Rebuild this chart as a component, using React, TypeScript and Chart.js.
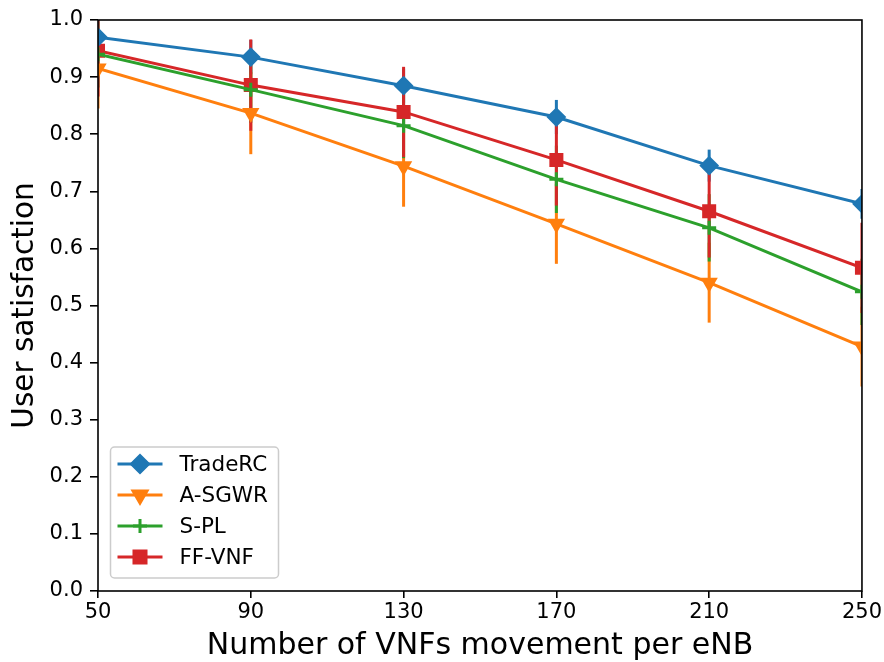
import React, { useEffect, useRef } from 'react';
import { Chart, registerables } from 'chart.js';
import { drawPoint } from 'chart.js/helpers';

Chart.register(...registerables);

const xValues = [50, 90, 130, 170, 210, 250];
const xTicks = [50, 90, 130, 170, 210, 250];
const seriesNames = ['TradeRC', 'A-SGWR', 'S-PL', 'FF-VNF'];
const seriesColors = ['#1f77b4', '#ff7f0e', '#2ca02c', '#d62728'];

const tradeRC = [0.970, 0.935, 0.885, 0.830, 0.745, 0.678];
const tradeRCErr = [0.03, 0.03, 0.03, 0.03, 0.028, 0.026];
const aSGWR = [0.915, 0.837, 0.744, 0.643, 0.540, 0.428];
const aSGWRErr = [0.07, 0.072, 0.071, 0.07, 0.07, 0.07];
const sPL = [0.940, 0.878, 0.815, 0.721, 0.636, 0.524];
const sPLErr = [0.058, 0.058, 0.057, 0.059, 0.059, 0.058];
const ffVNF = [0.946, 0.886, 0.839, 0.755, 0.665, 0.566];
const ffVNFErr = [0.08, 0.08, 0.079, 0.08, 0.081, 0.079];

const FONT = '"DejaVu Sans", sans-serif';

const pointStyles = [
  { pointStyle: 'rectRot', radius: 8.5, borderWidth: 2, rotation: 0 },
  { pointStyle: 'triangle', radius: 8, borderWidth: 2, rotation: 180 },
  { pointStyle: 'cross', radius: 7, borderWidth: 3, rotation: 0 },
  { pointStyle: 'rect', radius: 8.5, borderWidth: 2, rotation: 0 },
];

const errorBarPlugin = {
  id: 'errorBars',
  beforeDatasetsDraw(chart: any) {
    const { ctx, chartArea, scales } = chart;
    ctx.save();
    ctx.beginPath();
    ctx.rect(chartArea.left, chartArea.top, chartArea.right - chartArea.left, chartArea.bottom - chartArea.top);
    ctx.clip();
    chart.data.datasets.forEach((ds: any) => {
      ctx.strokeStyle = ds.borderColor;
      ctx.lineWidth = 3;
      ds.data.forEach((p: any, j: number) => {
        const e = ds.errors[j];
        const x = scales.x.getPixelForValue(p.x);
        const y1 = scales.y.getPixelForValue(p.y - e);
        const y2 = scales.y.getPixelForValue(p.y + e);
        ctx.beginPath();
        ctx.moveTo(x, y1);
        ctx.lineTo(x, y2);
        ctx.stroke();
      });
    });
    ctx.restore();
  },
};

const framePlugin = {
  id: 'frame',
  afterDatasetsDraw(chart: any) {
    const { ctx, chartArea } = chart;
    ctx.save();
    ctx.strokeStyle = '#000';
    ctx.lineWidth = 1.6;
    ctx.strokeRect(chartArea.left, chartArea.top, chartArea.right - chartArea.left, chartArea.bottom - chartArea.top);
    ctx.restore();
  },
};

const legendPlugin = {
  id: 'customLegend',
  afterDraw(chart: any) {
    const { ctx, chartArea } = chart;
    const bx = chartArea.left + 12.5;
    const bw = 168;
    const bh = 131;
    const by = chartArea.bottom - 13 - bh;
    ctx.save();
    ctx.beginPath();
    (ctx as any).roundRect(bx, by, bw, bh, 4);
    ctx.fillStyle = 'rgba(255,255,255,0.8)';
    ctx.fill();
    ctx.strokeStyle = '#cccccc';
    ctx.lineWidth = 1.5;
    ctx.stroke();
    chart.data.datasets.forEach((ds: any, i: number) => {
      const y = by + 17 + i * 31;
      ctx.strokeStyle = ds.borderColor;
      ctx.fillStyle = ds.borderColor;
      ctx.lineWidth = 3;
      ctx.beginPath();
      ctx.moveTo(bx + 7, y);
      ctx.lineTo(bx + 52, y);
      ctx.stroke();
      const ps = pointStyles[i];
      drawPoint(ctx, { pointStyle: ps.pointStyle as any, rotation: ps.rotation, radius: ps.radius, borderWidth: ps.borderWidth }, bx + 29.5, y);
      ctx.fillStyle = '#000';
      ctx.font = '21.5px ' + FONT;
      ctx.textBaseline = 'middle';
      ctx.textAlign = 'left';
      ctx.fillText(ds.label, bx + 69, y + 1);
    });
    ctx.restore();
  },
};

export default function App() {
  const ref = useRef<HTMLCanvasElement>(null);
  useEffect(() => {
    document.body.style.margin = '0';
    const values = [tradeRC, aSGWR, sPL, ffVNF];
    const errs = [tradeRCErr, aSGWRErr, sPLErr, ffVNFErr];
    const datasets = seriesNames.map((name, i) => ({
      label: name,
      data: xValues.map((x, j) => ({ x, y: values[i][j] })),
      errors: errs[i],
      borderColor: seriesColors[i],
      backgroundColor: seriesColors[i],
      borderWidth: 3,
      tension: 0,
      clip: 0,
      pointStyle: pointStyles[i].pointStyle,
      pointRadius: pointStyles[i].radius,
      pointBorderWidth: pointStyles[i].borderWidth,
      pointRotation: pointStyles[i].rotation,
      pointBackgroundColor: seriesColors[i],
      pointBorderColor: seriesColors[i],
    }));
    const chart = new Chart(ref.current!, {
      type: 'line',
      data: { datasets: datasets as any },
      options: {
        animation: false,
        responsive: false,
        layout: { padding: { top: 20, right: 22, left: 0, bottom: 0 } },
        plugins: { legend: { display: false }, tooltip: { enabled: false } },
        scales: {
          x: {
            type: 'linear',
            min: 50,
            max: 250,
            afterFit: (s: any) => { s.height = 71; },
            afterBuildTicks: (s: any) => { s.ticks = xTicks.map((v) => ({ value: v })); },
            ticks: { color: '#000', font: { family: FONT, size: 21 }, padding: 2, maxRotation: 0, autoSkip: false },
            grid: { drawOnChartArea: false, drawTicks: true, tickLength: 7, color: '#000', lineWidth: 1.6 },
            border: { display: false },
            title: { display: true, text: 'Number of VNFs movement per eNB', color: '#000', font: { family: FONT, size: 30 }, padding: { top: 0, bottom: -2 } },
          },
          y: {
            type: 'linear',
            min: 0,
            max: 1,
            afterFit: (s: any) => { s.width = 98; },
            ticks: { stepSize: 0.1, color: '#000', font: { family: FONT, size: 21 }, padding: 7, callback: (v: any) => Number(v).toFixed(1) },
            grid: { drawOnChartArea: false, drawTicks: true, tickLength: 8, color: '#000', lineWidth: 1.6 },
            border: { display: false },
            title: { display: true, text: 'User satisfaction', color: '#000', font: { family: FONT, size: 29.5 }, padding: { top: 8, bottom: 0 } },
          },
        },
      },
      plugins: [errorBarPlugin, framePlugin, legendPlugin],
    });
    return () => chart.destroy();
  }, []);
  return (
    <div style={{ width: 884, height: 662 }}>
      <canvas ref={ref} width={884} height={662} style={{ display: 'block' }} />
    </div>
  );
}
